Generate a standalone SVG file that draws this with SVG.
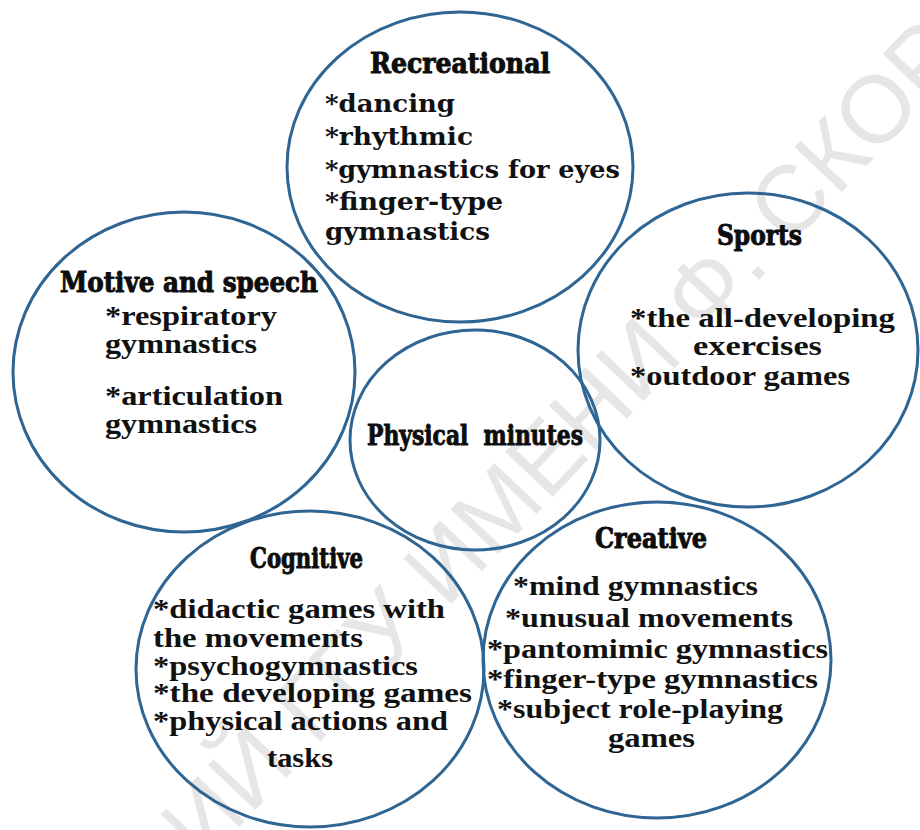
<svg xmlns="http://www.w3.org/2000/svg" width="920" height="830" viewBox="0 0 920 830">
<style>
.c{fill:none;stroke:#2f6592;stroke-width:3}
.h{font-family:"DejaVu Serif Condensed","DejaVu Serif","Liberation Serif",serif;font-stretch:condensed;font-weight:bold;font-size:28px;fill:#0d0d0d;stroke:#0d0d0d;stroke-width:0.9}
.b{font-family:"Liberation Serif","Times New Roman",serif;font-weight:bold;font-size:28px;fill:#111}
.p{font-family:"DejaVu Serif","Liberation Serif",serif;font-weight:bold;font-size:24px;fill:#111}
.wm{font-family:"Liberation Sans",Arial,sans-serif;font-size:95px;fill:#e6e6e6}
</style>
<rect width="920" height="830" fill="#fff"/>
<g id="watermark">
<text class="wm" transform="translate(-200,1290) rotate(-46.5)">РЕПОЗИТОРИЙ ГГУ ИМЕНИ Ф. СКОРИНЫ</text>
</g>
<g id="connectors"></g>
<g id="recreational">
<ellipse class="c" cx="460" cy="167" rx="173" ry="155"/>
<text class="h" x="370" y="73" textLength="180" lengthAdjust="spacingAndGlyphs">Recreational</text>
<text class="p" x="325" y="112" textLength="130" lengthAdjust="spacingAndGlyphs">*dancing</text>
<text class="p" x="325" y="145" textLength="148" lengthAdjust="spacingAndGlyphs">*rhythmic</text>
<text class="p" x="325" y="178" textLength="295" lengthAdjust="spacingAndGlyphs">*gymnastics for eyes</text>
<text class="p" x="325" y="210" textLength="178" lengthAdjust="spacingAndGlyphs">*finger-type</text>
<text class="p" x="325" y="240" textLength="165" lengthAdjust="spacingAndGlyphs">gymnastics</text>
</g>
<g id="motive">
<ellipse class="c" cx="184" cy="372" rx="171" ry="160"/>
<text class="h" x="60" y="292" textLength="258" lengthAdjust="spacingAndGlyphs">Motive and speech</text>
<text class="b" x="105" y="325" textLength="172" lengthAdjust="spacingAndGlyphs">*respiratory</text>
<text class="b" x="105" y="353" textLength="152" lengthAdjust="spacingAndGlyphs">gymnastics</text>
<text class="b" x="105" y="405" textLength="178" lengthAdjust="spacingAndGlyphs">*articulation</text>
<text class="b" x="105" y="433" textLength="152" lengthAdjust="spacingAndGlyphs">gymnastics</text>
</g>
<g id="sports">
<ellipse class="c" cx="748" cy="350" rx="170" ry="157"/>
<text class="h" x="717" y="245" textLength="85" lengthAdjust="spacingAndGlyphs">Sports</text>
<text class="b" x="630" y="327" textLength="265" lengthAdjust="spacingAndGlyphs">*the all-developing</text>
<text class="b" x="693" y="355" textLength="129" lengthAdjust="spacingAndGlyphs">exercises</text>
<text class="b" x="630" y="385" textLength="220" lengthAdjust="spacingAndGlyphs">*outdoor games</text>
</g>
<g id="physical-minutes">
<ellipse class="c" cx="475" cy="440" rx="125" ry="110"/>
<text class="h" x="367" y="445" textLength="216" lengthAdjust="spacingAndGlyphs" xml:space="preserve">Physical  minutes</text>
</g>
<g id="cognitive">
<ellipse class="c" cx="310" cy="669" rx="174" ry="158"/>
<text class="h" x="250" y="568" textLength="113" lengthAdjust="spacingAndGlyphs">Cognitive</text>
<text class="b" x="153" y="618" textLength="292" lengthAdjust="spacingAndGlyphs">*didactic games with</text>
<text class="b" x="153" y="647" textLength="210" lengthAdjust="spacingAndGlyphs">the movements</text>
<text class="b" x="153" y="675" textLength="265" lengthAdjust="spacingAndGlyphs">*psychogymnastics</text>
<text class="b" x="153" y="702" textLength="319" lengthAdjust="spacingAndGlyphs">*the developing games</text>
<text class="b" x="153" y="730" textLength="295" lengthAdjust="spacingAndGlyphs">*physical actions and</text>
<text class="b" x="267" y="767" textLength="66" lengthAdjust="spacingAndGlyphs">tasks</text>
</g>
<g id="creative">
<ellipse class="c" cx="657" cy="660" rx="174" ry="158"/>
<text class="h" x="595" y="548" textLength="112" lengthAdjust="spacingAndGlyphs">Creative</text>
<text class="b" x="513" y="595" textLength="245" lengthAdjust="spacingAndGlyphs">*mind gymnastics</text>
<text class="b" x="505" y="627" textLength="288" lengthAdjust="spacingAndGlyphs">*unusual movements</text>
<text class="b" x="487" y="658" textLength="341" lengthAdjust="spacingAndGlyphs">*pantomimic gymnastics</text>
<text class="b" x="487" y="688" textLength="331" lengthAdjust="spacingAndGlyphs">*finger-type gymnastics</text>
<text class="b" x="497" y="718" textLength="286" lengthAdjust="spacingAndGlyphs">*subject role-playing</text>
<text class="b" x="608" y="747" textLength="87" lengthAdjust="spacingAndGlyphs">games</text>
</g>
</svg>
